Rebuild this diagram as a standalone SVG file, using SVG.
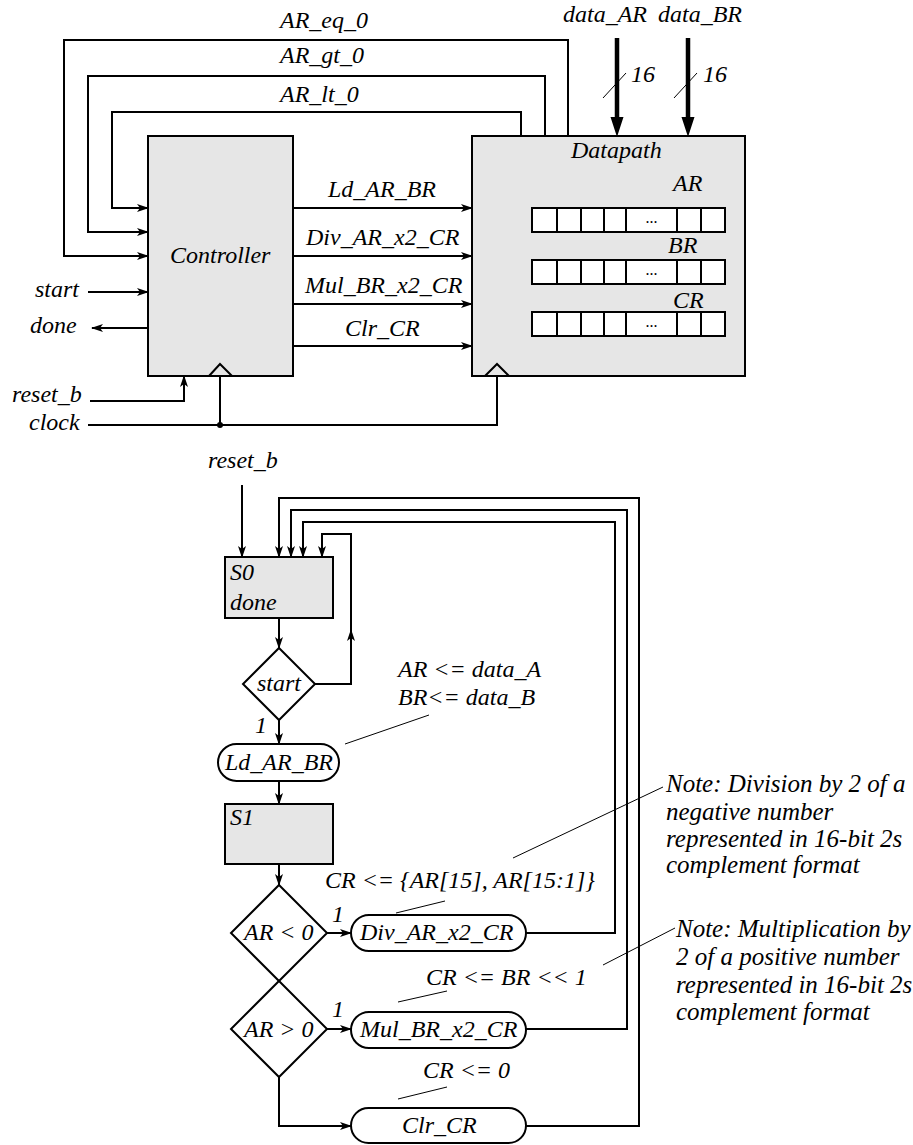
<svg xmlns="http://www.w3.org/2000/svg" width="913" height="1145" viewBox="0 0 913 1145">
<defs>
<marker id="ah" markerWidth="12" markerHeight="8" refX="11" refY="4" orient="auto" markerUnits="userSpaceOnUse">
<path d="M0,0 L12,4 L0,8 L3,4 Z" fill="#000"/>
</marker>
<style>
text{font-family:"Liberation Serif","Times New Roman",serif;font-style:italic;font-size:24px;fill:#000}
.note{font-size:25px}
.w{stroke:#000;stroke-width:2;fill:none}
.a{stroke:#000;stroke-width:2;fill:none;marker-end:url(#ah)}
.t{stroke:#000;stroke-width:1;fill:none}
.box{fill:#e6e6e6;stroke:#000;stroke-width:2}
.cell{fill:#fff;stroke:#000;stroke-width:2}
.rnd{fill:#fff;stroke:#000;stroke-width:2}
.bus{stroke:#000;stroke-width:4.5;fill:none}
.dots{font-style:normal;font-size:16px}
</style>
</defs>
<rect width="913" height="1145" fill="#fff"/>

<g id="controller">
<rect class="box" x="148" y="136" width="145" height="240"/>
<polyline class="w" points="209,376 220,364 232,376"/>
<text x="170" y="263">Controller</text>
</g>

<g id="datapath">
<rect class="box" x="472" y="136" width="273" height="240"/>
<polyline class="w" points="485,376 497,364 509,376"/>
<text x="571" y="158">Datapath</text>
<text x="673" y="191">AR</text>
<text x="668" y="253">BR</text>
<text x="673" y="308">CR</text>
<g id="reg_AR">
<rect class="cell" x="532" y="208" width="193" height="24"/>
<path class="w" d="M557,208V232M581,208V232M604,208V232M626,208V232M677,208V232M701,208V232"/>
<text class="dots" x="651.5" y="223" text-anchor="middle">...</text>
</g>
<g id="reg_BR">
<rect class="cell" x="532" y="260" width="193" height="24"/>
<path class="w" d="M557,260V284M581,260V284M604,260V284M626,260V284M677,260V284M701,260V284"/>
<text class="dots" x="651.5" y="275" text-anchor="middle">...</text>
</g>
<g id="reg_CR">
<rect class="cell" x="532" y="312" width="193" height="24"/>
<path class="w" d="M557,312V336M581,312V336M604,312V336M626,312V336M677,312V336M701,312V336"/>
<text class="dots" x="651.5" y="327" text-anchor="middle">...</text>
</g>
</g>

<g id="top-connectors">
<path class="a" d="M568,136V40H64V256H148"/>
<path class="a" d="M545,136V76H88V232H148"/>
<path class="a" d="M521,136V112H112V208H148"/>
<path class="a" d="M293,208H472"/>
<path class="a" d="M293,256H472"/>
<path class="a" d="M293,304H472"/>
<path class="a" d="M293,346H472"/>
<path class="a" d="M88,292H148"/>
<path class="a" d="M148,328H92"/>
<path class="a" d="M90,401H184V376"/>
<path class="w" d="M88,425H497V376M220,425V376"/>
<circle cx="220" cy="425" r="3" fill="#000"/>
<path class="bus" d="M617,38V120M688,38V120"/>
<path d="M610.5,117H623.5L617,137Z M681.5,117H694.5L688,137Z" fill="#000"/>
<path class="t" d="M603,98L626,73M674,98L697,73"/>
</g>

<g id="top-labels">
<text x="280" y="28">AR_eq_0</text>
<text x="280" y="63">AR_gt_0</text>
<text x="280" y="102">AR_lt_0</text>
<text x="563" y="22">data_AR</text>
<text x="658" y="22">data_BR</text>
<text x="631" y="82">16</text>
<text x="703" y="82">16</text>
<text x="328" y="197">Ld_AR_BR</text>
<text x="306" y="245">Div_AR_x2_CR</text>
<text x="305" y="293">Mul_BR_x2_CR</text>
<text x="345" y="336">Clr_CR</text>
<text x="35" y="297">start</text>
<text x="30" y="333">done</text>
<text x="12" y="402">reset_b</text>
<text x="29" y="430">clock</text>
</g>

<g id="S0">
<rect class="box" x="225" y="557" width="108" height="61"/>
<text x="230" y="580">S0</text>
<text x="230" y="610">done</text>
</g>
<g id="start_dec">
<polygon class="rnd" points="279,648 315,684 279,720 243,684"/>
<text x="257" y="691">start</text>
</g>
<g id="Ld_AR_BR">
<rect class="rnd" x="218" y="744" width="121" height="37" rx="18.5"/>
<text x="225" y="770">Ld_AR_BR</text>
</g>
<g id="S1">
<rect class="box" x="225" y="804" width="108" height="60"/>
<text x="230" y="825">S1</text>
</g>
<g id="ARlt0">
<polygon class="rnd" points="279,885 327,933 279,981 231,933"/>
<text x="244" y="940">AR &lt; 0</text>
</g>
<g id="ARgt0">
<polygon class="rnd" points="279,981 327,1029 279,1077 231,1029"/>
<text x="244" y="1037">AR &gt; 0</text>
</g>
<g id="Div_AR_x2_CR">
<rect class="rnd" x="351" y="915" width="175" height="36" rx="18"/>
<text x="360" y="940">Div_AR_x2_CR</text>
</g>
<g id="Mul_BR_x2_CR">
<rect class="rnd" x="351" y="1012" width="175" height="36" rx="18"/>
<text x="360" y="1037">Mul_BR_x2_CR</text>
</g>
<g id="Clr_CR">
<rect class="rnd" x="351" y="1108" width="175" height="35" rx="17.5"/>
<text x="402" y="1133">Clr_CR</text>
</g>

<g id="bottom-connectors">
<path class="a" d="M242,485V557"/>
<path class="a" d="M279,618V648"/>
<path class="a" d="M315,684H351V630"/>
<path class="a" d="M351,632V534H322V557"/>
<path class="a" d="M279,720V744"/>
<path class="a" d="M279,781V804"/>
<path class="a" d="M279,864V885"/>
<path class="a" d="M327,933H351"/>
<path class="a" d="M327,1029H351"/>
<path class="a" d="M279,1077V1126H351"/>
<path class="a" d="M526,933H615V522H303V557"/>
<path class="a" d="M526,1029H627V510H291V557"/>
<path class="a" d="M526,1126H639V498H279V557"/>
<path class="t" d="M345,744L429,715M396,913L445,901M398,1002L447,991M398,1099L447,1087M513,858L663,787M603,965L675,928"/>
</g>

<g id="bottom-labels">
<text x="208" y="468">reset_b</text>
<text x="398" y="677">AR &lt;= data_A</text>
<text x="398" y="705">BR&lt;= data_B</text>
<text x="255" y="733">1</text>
<text x="332" y="922">1</text>
<text x="332" y="1017">1</text>
<text x="325" y="888">CR &lt;= {AR[15], AR[15:1]}</text>
<text x="426" y="985">CR &lt;= BR &lt;&lt; 1</text>
<text x="423" y="1078">CR &lt;= 0</text>
<text class="note" x="666" y="792">Note: Division by 2 of a</text>
<text class="note" x="666" y="820">negative number</text>
<text class="note" x="666" y="847">represented in 16-bit 2s</text>
<text class="note" x="666" y="873">complement format</text>
<text class="note" x="676" y="937">Note: Multiplication by</text>
<text class="note" x="676" y="965">2 of a positive number</text>
<text class="note" x="676" y="993">represented in 16-bit 2s</text>
<text class="note" x="676" y="1020">complement format</text>
</g>
</svg>
